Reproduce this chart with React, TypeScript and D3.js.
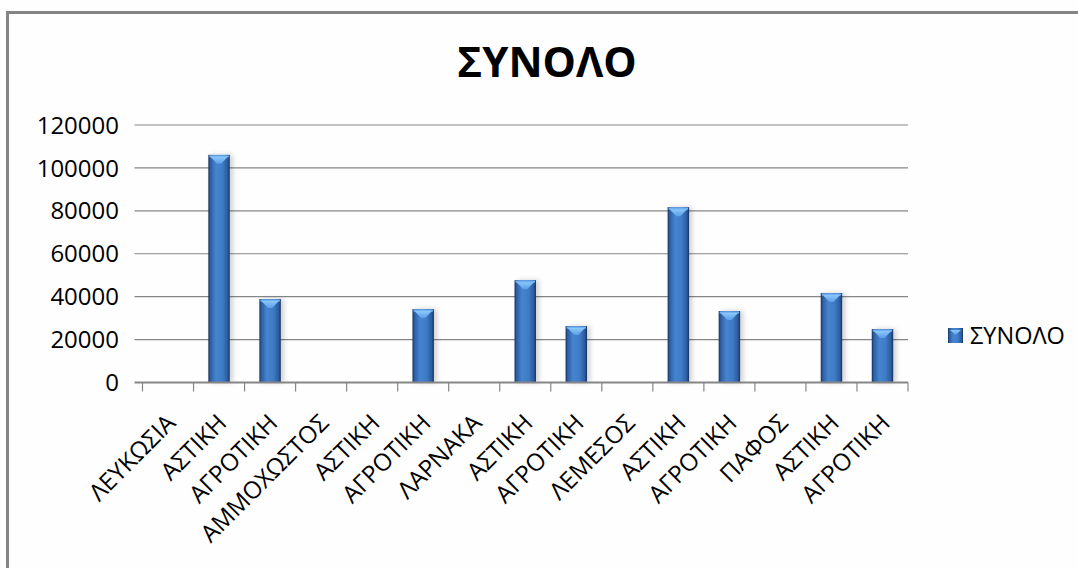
import * as d3 from 'd3';
import { useRef, useEffect } from 'react';

// category labels along the x axis (regions followed by urban / rural rows)
const categories = [
    'ΛΕΥΚΩΣΙΑ', 'ΑΣΤΙΚΗ', 'ΑΓΡΟΤΙΚΗ',
    'ΑΜΜΟΧΩΣΤΟΣ', 'ΑΣΤΙΚΗ', 'ΑΓΡΟΤΙΚΗ',
    'ΛΑΡΝΑΚΑ', 'ΑΣΤΙΚΗ', 'ΑΓΡΟΤΙΚΗ',
    'ΛΕΜΕΣΟΣ', 'ΑΣΤΙΚΗ', 'ΑΓΡΟΤΙΚΗ',
    'ΠΑΦΟΣ', 'ΑΣΤΙΚΗ', 'ΑΓΡΟΤΙΚΗ',
];

// series ΣΥΝΟΛΟ (empty cells for the region header rows)
const totals: (number | null)[] = [
    null, 106100, 38900,
    null, null, 34200,
    null, 47700, 26300,
    null, 81700, 33300,
    null, 41700, 24900,
];

const yTicks = [0, 20000, 40000, 60000, 80000, 100000, 120000];

const seriesName = 'ΣΥΝΟΛΟ';
const title = 'ΣΥΝΟΛΟ';

const FONT = '"Open Sans", "DejaVu Sans", sans-serif';

const Chart = () => {
    const svgRef = useRef<SVGSVGElement | null>(null);

    useEffect(() => {
        const W = 1078;
        const H = 568;
        const plot = { left: 142.5, right: 908, top: 125, bottom: 382.5 };

        d3.select(svgRef.current).selectAll('*').remove();

        const svg = d3.select(svgRef.current)
            .attr('width', W)
            .attr('height', H);

        const defs = svg.append('defs');

        // bar body: dark edges, lighter centre
        const grad = defs.append('linearGradient')
            .attr('id', 'barGrad')
            .attr('x1', '0%').attr('x2', '100%')
            .attr('y1', '0%').attr('y2', '0%');
        [
            ['0%', '#17335e'],
            ['10%', '#2d5fa3'],
            ['35%', '#4684d0'],
            ['65%', '#3f7bc6'],
            ['90%', '#2b5b9e'],
            ['100%', '#14305a'],
        ].forEach(([o, c]) => grad.append('stop').attr('offset', o).attr('stop-color', c));

        const capGrad = defs.append('linearGradient')
            .attr('id', 'capGrad')
            .attr('x1', '0%').attr('x2', '0%')
            .attr('y1', '0%').attr('y2', '100%');
        capGrad.append('stop').attr('offset', '0%').attr('stop-color', '#8cc8fb');
        capGrad.append('stop').attr('offset', '100%').attr('stop-color', '#5a9ee8');

        const shadow = defs.append('filter')
            .attr('id', 'barShadow')
            .attr('x', '-50%').attr('y', '-10%')
            .attr('width', '200%').attr('height', '120%');
        shadow.append('feDropShadow')
            .attr('dx', 3).attr('dy', 0)
            .attr('stdDeviation', 2.5)
            .attr('flood-color', '#000')
            .attr('flood-opacity', 0.18);

        // background + chart frame
        svg.append('rect')
            .attr('x', 0).attr('y', 0)
            .attr('width', W).attr('height', H)
            .attr('fill', '#fefefe');
        svg.append('rect')
            .attr('x', 7.5).attr('y', 12.5)
            .attr('width', W + 20).attr('height', H + 20)
            .attr('fill', 'none')
            .attr('stroke', '#848484')
            .attr('stroke-width', 3);

        // Scales
        const xScale = d3.scaleBand<number>()
            .domain(categories.map((_, i) => i))
            .range([plot.left, plot.right])
            .paddingInner(0)
            .paddingOuter(0);

        const yScale = d3.scaleLinear()
            .domain([0, 120000])
            .range([plot.bottom, plot.top]);

        // gridlines + y labels
        svg.append('g')
            .selectAll('line')
            .data(yTicks.filter(t => t > 0))
            .enter()
            .append('line')
            .attr('x1', plot.left - 8)
            .attr('x2', plot.right)
            .attr('y1', d => yScale(d))
            .attr('y2', d => yScale(d))
            .attr('stroke', '#868686')
            .attr('stroke-width', 1.2);

        svg.append('g')
            .selectAll('text')
            .data(yTicks)
            .enter()
            .append('text')
            .attr('x', 119)
            .attr('y', d => yScale(d))
            .attr('dy', '0.36em')
            .attr('text-anchor', 'end')
            .attr('font-family', FONT)
            .attr('font-size', 24)
            .attr('fill', '#000')
            .text(d => d);

        // bars
        const bw = xScale.bandwidth() * 0.42;
        const barData = totals
            .map((v, i) => ({ i, v }))
            .filter(d => d.v !== null && d.v > 0) as { i: number, v: number }[];

        const bars = svg.append('g')
            .selectAll('g')
            .data(barData)
            .enter()
            .append('g');

        bars.append('rect')
            .attr('x', d => xScale(d.i)! + (xScale.bandwidth() - bw) / 2)
            .attr('y', d => yScale(d.v))
            .attr('width', bw)
            .attr('height', d => yScale(0) - yScale(d.v))
            .attr('fill', 'url(#barGrad)')
            .attr('filter', 'url(#barShadow)');

        // lighter top edge with the little downward bevel
        bars.append('rect')
            .attr('x', d => xScale(d.i)! + (xScale.bandwidth() - bw) / 2 + 1)
            .attr('y', d => yScale(d.v) + 0.5)
            .attr('width', bw - 2)
            .attr('height', 2)
            .attr('fill', '#6fb1f2');
        bars.append('path')
            .attr('d', d => {
                const x0 = xScale(d.i)! + (xScale.bandwidth() - bw) / 2;
                const top = yScale(d.v);
                return `M${x0 + 2},${top + 2} L${x0 + bw - 2},${top + 2} L${x0 + bw / 2 + 2},${top + 9} L${x0 + bw / 2 - 2},${top + 9} Z`;
            })
            .attr('fill', 'url(#capGrad)');

        // x axis line + ticks
        svg.append('line')
            .attr('x1', plot.left - 8)
            .attr('x2', plot.right)
            .attr('y1', plot.bottom)
            .attr('y2', plot.bottom)
            .attr('stroke', '#868686')
            .attr('stroke-width', 2);

        const tickXs = categories.map((_, i) => xScale(i)!).concat([plot.right]);
        svg.append('g')
            .selectAll('line')
            .data(tickXs)
            .enter()
            .append('line')
            .attr('x1', d => d)
            .attr('x2', d => d)
            .attr('y1', plot.bottom)
            .attr('y2', plot.bottom + 9)
            .attr('stroke', '#868686')
            .attr('stroke-width', 1.2);

        // rotated category labels
        svg.append('g')
            .selectAll('text')
            .data(categories)
            .enter()
            .append('text')
            .attr('transform', (_, i) => {
                const cx = xScale(i)! + xScale.bandwidth() / 2;
                return `translate(${cx + 9},${plot.bottom + 42}) rotate(-45)`;
            })
            .attr('text-anchor', 'end')
            .attr('font-family', FONT)
            .attr('font-size', 24)
            .attr('fill', '#000')
            .text(d => d);

        // title
        svg.append('text')
            .attr('x', 547)
            .attr('y', 77)
            .attr('text-anchor', 'middle')
            .attr('font-family', FONT)
            .attr('font-weight', 'bold')
            .attr('font-size', 42)
            .attr('fill', '#000')
            .text(title);

        // legend
        const lg = svg.append('g').attr('transform', 'translate(948,328)');
        lg.append('rect')
            .attr('width', 15).attr('height', 15)
            .attr('fill', 'url(#barGrad)');
        lg.append('path')
            .attr('d', 'M2,2 L13,2 L7.5,7 Z')
            .attr('fill', 'url(#capGrad)');
        lg.append('text')
            .attr('x', 22)
            .attr('y', 7.5)
            .attr('dy', '0.36em')
            .attr('font-family', FONT)
            .attr('font-size', 23.5)
            .attr('fill', '#000')
            .text(seriesName);
    }, []);

    return (
        <svg ref={svgRef} style={{ position: 'absolute', left: 0, top: 0, display: 'block' }}></svg>
    );
};

const App = () => <Chart />;

export default App;
